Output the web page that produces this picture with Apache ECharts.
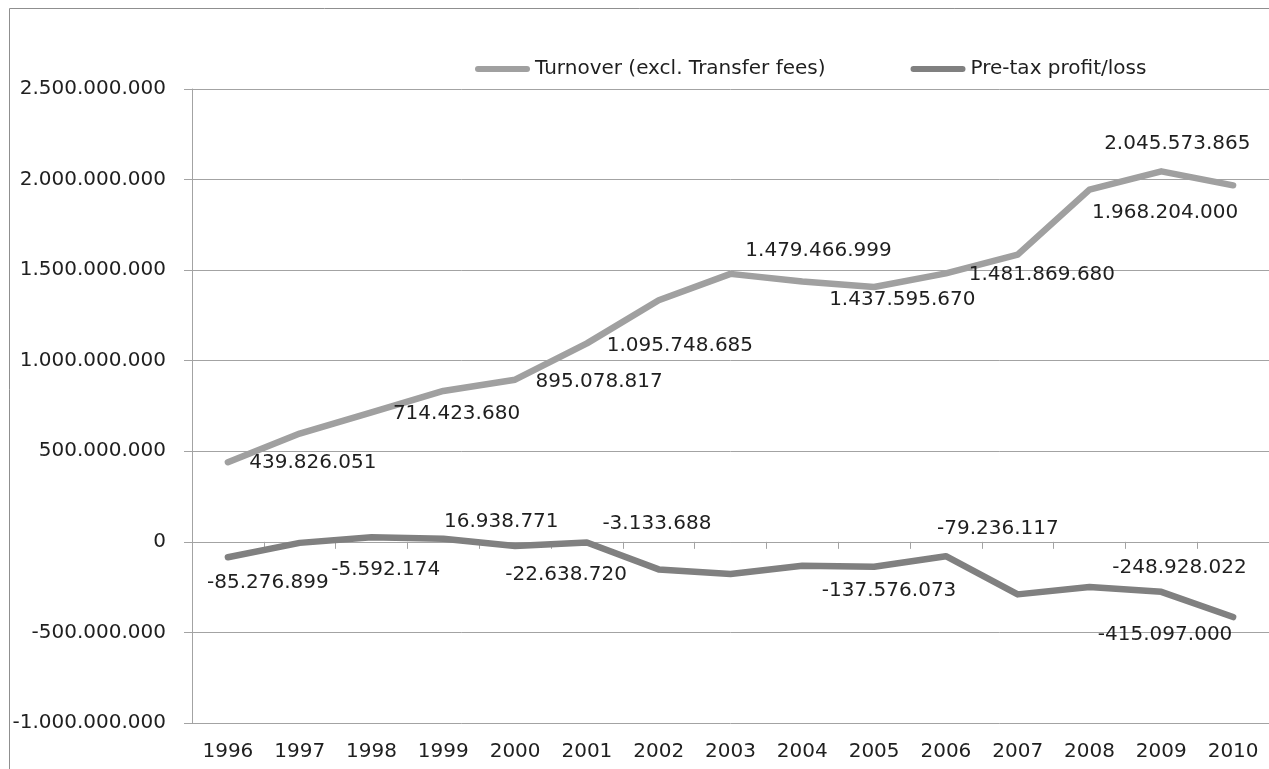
<!DOCTYPE html>
<html>
<head>
<meta charset="utf-8">
<script src="https://cdn.jsdelivr.net/npm/echarts@6/dist/echarts.min.js"></script>
<style>
  html, body { margin: 0; padding: 0; background: #ffffff; overflow: hidden; }
  #chart { width: 1269px; height: 769px; }
</style>
</head>
<body>
<div id="chart"></div>
<script>
// ---- data ----
var years = ['1996','1997','1998','1999','2000','2001','2002','2003','2004','2005','2006','2007','2008','2009','2010'];
var seriesNames = ['Turnover (excl. Transfer fees)', 'Pre-tax profit/loss'];
var turnover = [439826051, 598000000, 714423680, 833000000, 895078817, 1095748685, 1334000000, 1479466999, 1437595670, 1407000000, 1481869680, 1586000000, 1945000000, 2045573865, 1968204000];
var profit = [-85276899, -5592174, 25000000, 16938771, -22638720, -3133688, -152000000, -178000000, -132000000, -137576073, -79236117, -290000000, -248928022, -276000000, -415097000];
var yTicks = { min: -1000000000, max: 2500000000, interval: 500000000 };

// ---- which points carry a data label, and where the label sits (pixel offsets from the point) ----
var turnoverLabels = { 0: [85, 1], 2: [85, 1], 4: [84, 2], 5: [93, 2], 7: [88, -23], 8: [100, 18], 10: [96, 1], 13: [16, -28], 14: [-68, 27] };
var profitLabels = { 0: [40, 25], 1: [86, 27], 3: [58, -17], 4: [51, 29], 5: [70, -19], 9: [15, 24], 10: [52, -27], 12: [90, -19], 14: [-68, 18] };

function fmt(v) {
  return Math.round(v).toString().replace(/\B(?=(\d{3})+(?!\d))/g, '.');
}
function buildData(values, labels) {
  return values.map(function (v, i) {
    if (labels[i]) {
      return { value: v, label: { show: true, offset: labels[i] } };
    }
    return { value: v };
  });
}

var FONT = 'DejaVu Sans';
var TEXT = '#1f1f1f';
var GRID = '#a3a3a3';
var C1 = '#a0a0a0';
var C2 = '#808080';
var legendIcon = 'path://M3,0 L52,0 A3,3 0 0 1 52,6 L3,6 A3,3 0 0 1 3,0 Z';

var chart = echarts.init(document.getElementById('chart'), null, { renderer: 'canvas' });

var labelBase = {
  show: false,
  position: 'inside',
  fontFamily: FONT,
  fontSize: 20,
  color: TEXT,
  formatter: function (p) { return fmt(p.value); }
};

chart.setOption({
  animation: false,
  backgroundColor: '#ffffff',
  graphic: [{
    type: 'polyline',
    silent: true,
    shape: { points: [[9.5, 900], [9.5, 8.5], [1400, 8.5]] },
    style: { fill: null, stroke: '#8f8f8f', lineWidth: 1 }
  }],
  legend: {
    left: 470,
    top: 54,
    itemWidth: 55,
    itemHeight: 7,
    itemGap: 85,
    icon: legendIcon,
    textStyle: { fontFamily: FONT, fontSize: 20, color: TEXT },
    data: seriesNames
  },
  grid: { left: 192, top: 89, width: 1080, bottom: 46, containLabel: false },
  xAxis: [{
    type: 'category',
    data: years,
    position: 'bottom',
    boundaryGap: true,
    axisLine: { show: false, onZero: false },
    axisTick: { show: false },
    splitLine: { show: false },
    axisLabel: { fontFamily: FONT, fontSize: 20, color: TEXT, margin: 19, interval: 0 }
  }, {
    type: 'category',
    data: years,
    position: 'top',
    boundaryGap: true,
    axisLine: { show: true, onZero: true, lineStyle: { color: GRID, width: 1 } },
    axisTick: { show: true, inside: true, length: 7, lineStyle: { color: GRID } },
    axisLabel: { show: false },
    splitLine: { show: false }
  }],
  yAxis: {
    type: 'value',
    min: yTicks.min,
    max: yTicks.max,
    interval: yTicks.interval,
    axisLine: { show: true, lineStyle: { color: GRID, width: 1 } },
    axisTick: { show: true, length: 8, lineStyle: { color: GRID } },
    splitLine: { show: true, lineStyle: { color: GRID, width: 1 } },
    axisLabel: { fontFamily: FONT, fontSize: 20, color: TEXT, margin: 26, formatter: function (v) { return fmt(v); } }
  },
  series: [{
    name: seriesNames[0],
    type: 'line',
    xAxisIndex: 0,
    data: buildData(turnover, turnoverLabels),
    symbol: 'circle',
    symbolSize: 1,
    showSymbol: true,
    itemStyle: { color: C1 },
    lineStyle: { color: C1, width: 6.5, cap: 'round', join: 'round' },
    label: labelBase,
    emphasis: { disabled: true },
    z: 3
  }, {
    name: seriesNames[1],
    type: 'line',
    xAxisIndex: 0,
    data: buildData(profit, profitLabels),
    symbol: 'circle',
    symbolSize: 1,
    showSymbol: true,
    itemStyle: { color: C2 },
    lineStyle: { color: C2, width: 6.5, cap: 'round', join: 'round' },
    label: labelBase,
    emphasis: { disabled: true },
    z: 3
  }]
});
</script>
</body>
</html>
